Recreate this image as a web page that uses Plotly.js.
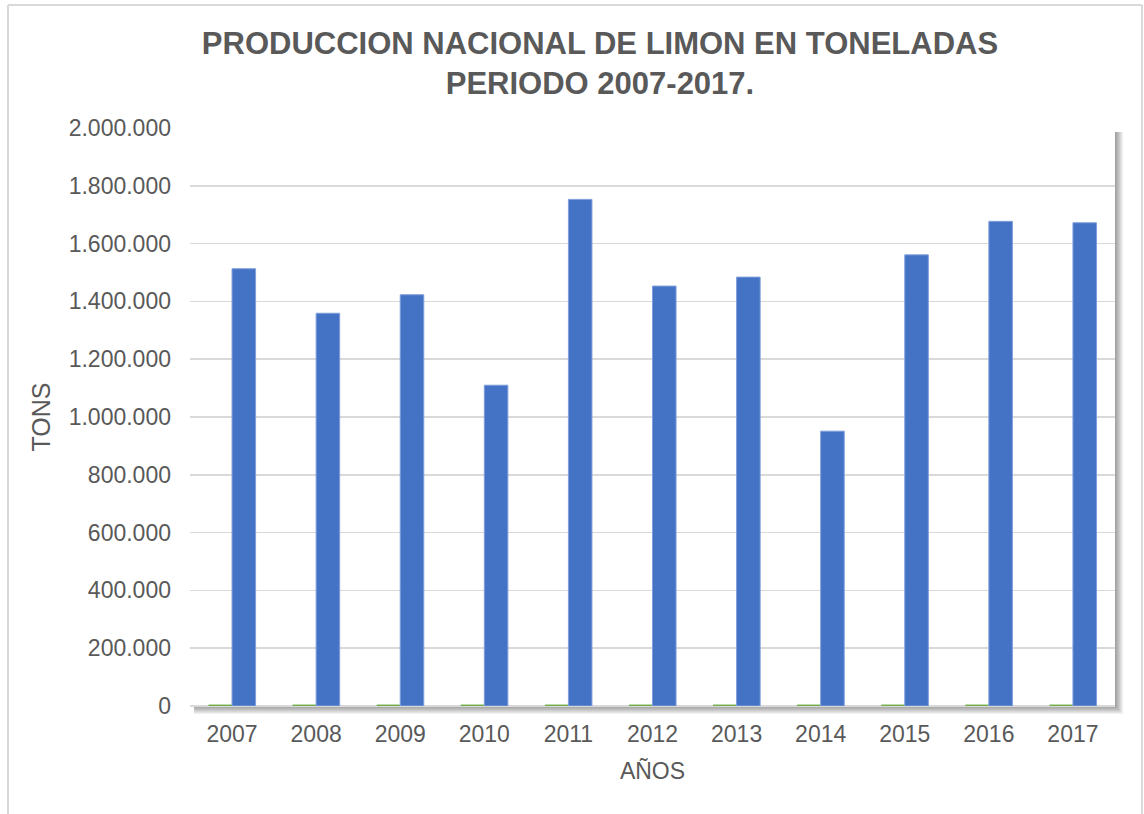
<!DOCTYPE html>
<html>
<head>
<meta charset="utf-8">
<script src="https://cdn.plot.ly/plotly-3.0.1.min.js"></script>
<style>
  html, body { margin: 0; padding: 0; background: #fff; }
  #chart { width: 1144px; height: 814px; }
</style>
</head>
<body>
<div id="chart"></div>
<script>
// Years on the x axis
const years = ['2007', '2008', '2009', '2010', '2011', '2012', '2013', '2014', '2015', '2016', '2017'];

// Production in tons (blue bars)
const production = [1513000, 1359000, 1423000, 1110000, 1753000, 1453000, 1484000, 951000, 1561000, 1677000, 1672000];

// Second series, almost zero (thin green bars)
const secondSeries = [5000, 5000, 5000, 5000, 5000, 5000, 5000, 5000, 5000, 5000, 5000];

const yTicks = [0, 200000, 400000, 600000, 800000, 1000000, 1200000, 1400000, 1600000, 1800000, 2000000];

const grey = '#595959';

const traceGreen = {
    x: years,
    y: secondSeries,
    type: 'bar',
    marker: {color: '#70AD47'},
    hoverinfo: 'skip'
};

const traceBlue = {
    x: years,
    y: production,
    type: 'bar',
    marker: {color: '#4472C4', line: {color: '#7f9edb', width: 1}}
};

// soft shadow on the right and bottom of the plot area
const W = 925, H = 578;
const shadows = [];
for (let i = 1; i <= 6; i++) {
    shadows.push({
        type: 'rect', xref: 'paper', yref: 'paper', layer: 'below',
        x0: 4 / W, x1: 1 + (i * 1.3) / W,
        y0: -(i * 1.3) / H, y1: 1 - 4 / H,
        fillcolor: 'rgba(0,0,0,0.07)', line: {width: 0}
    });
}
// white plot area on top of the shadow
shadows.push({
    type: 'rect', xref: 'paper', yref: 'paper', layer: 'below',
    x0: 0, x1: 1, y0: 0, y1: 1,
    fillcolor: '#ffffff', line: {width: 0}
});

// light frame around the whole chart
const frame = [
    {type: 'line', xref: 'paper', yref: 'paper', x0: -182 / W, x1: -182 / W, y0: -0.2, y1: 701 / H},
    {type: 'line', xref: 'paper', yref: 'paper', x0: -182 / W, x1: 952 / W, y0: 701 / H, y1: 701 / H},
    {type: 'line', xref: 'paper', yref: 'paper', x0: 952 / W, x1: 952 / W, y0: -0.2, y1: 701 / H}
].map(s => Object.assign(s, {layer: 'below', line: {color: '#d9d9d9', width: 2}}));

const layout = {
    width: 1144,
    height: 814,
    margin: {l: 190, r: 29, t: 128, b: 108},
    paper_bgcolor: '#ffffff',
    plot_bgcolor: '#ffffff',
    separators: ',.',
    showlegend: false,
    barmode: 'group',
    bargap: 0.44,
    bargroupgap: 0,
    font: {family: 'Liberation Sans, Arial, sans-serif', color: grey},
    title: {
        text: '<b>PRODUCCION NACIONAL DE LIMON EN TONELADAS<br>PERIODO 2007-2017.</b>',
        font: {size: 31, color: grey},
        xref: 'container', x: 600 / 1144, xanchor: 'center',
        yref: 'container', y: 1 - 54 / 814, yanchor: 'top'
    },
    xaxis: {
        type: 'category',
        title: {text: 'AÑOS', font: {size: 23, color: grey}, standoff: 16},
        tickfont: {size: 23, color: grey},
        ticklabelstandoff: 12,
        showline: false,
        ticks: '',
        showgrid: false
    },
    yaxis: {
        range: [0, 2000000],
        tickvals: yTicks,
        tickformat: ',d',
        title: {text: 'TONS', font: {size: 25, color: grey}, standoff: 10},
        tickfont: {size: 23, color: grey},
        gridcolor: '#d9d9d9',
        gridwidth: 1.5,
        zeroline: true,
        zerolinecolor: '#d9d9d9',
        zerolinewidth: 1.5,
        showline: false,
        ticks: '',
        ticklabelstandoff: 18
    },
    shapes: shadows.concat(frame)
};

Plotly.newPlot('chart', [traceGreen, traceBlue], layout, {displayModeBar: false, staticPlot: true});
</script>
</body>
</html>
